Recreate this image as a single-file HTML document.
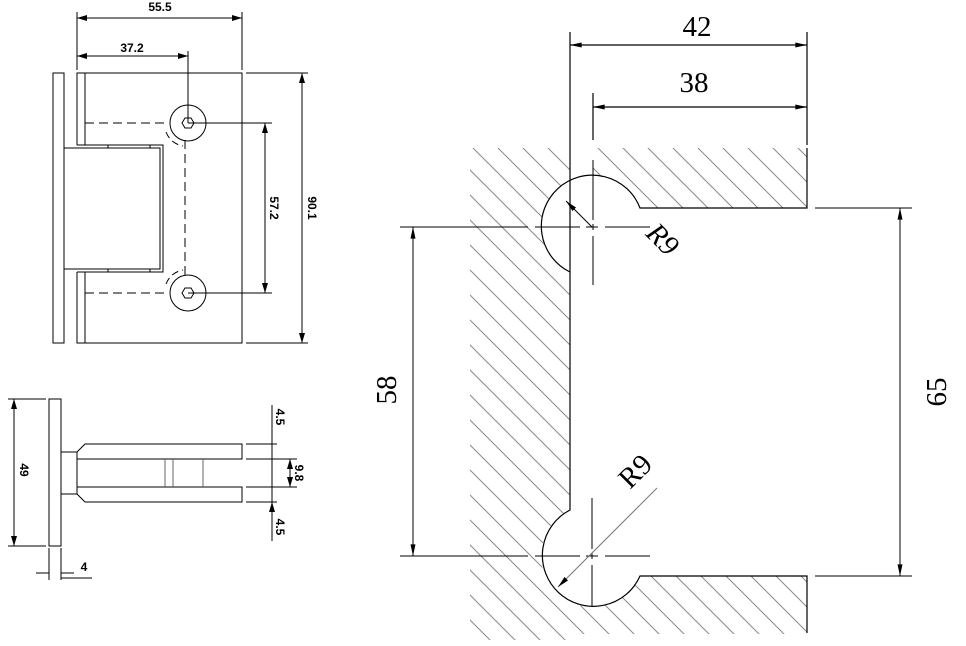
<!DOCTYPE html>
<html><head><meta charset="utf-8"><style>
html,body{margin:0;padding:0;background:#fff;}
svg{display:block;}
.s{font-family:"Liberation Sans",sans-serif;font-weight:bold;font-size:12px;}
.t{font-family:"Liberation Serif",serif;font-size:29px;}
</style></head><body>
<svg width="966" height="646" viewBox="0 0 966 646" xmlns="http://www.w3.org/2000/svg">
<defs>
<pattern id="h" patternUnits="userSpaceOnUse" width="25" height="25">
<path d="M0,0 L25,25 M-5,20 L5,30 M20,-5 L30,5" stroke="#8a8a8a" stroke-width="1"/>
</pattern>
<marker id="a" viewBox="0 0 10 6" refX="10" refY="3" markerWidth="10" markerHeight="6" orient="auto-start-reverse" markerUnits="userSpaceOnUse"><path d="M0,0 L10,3 L0,6z" fill="#000"/></marker>
<marker id="b" viewBox="0 0 14 6" refX="14" refY="3" markerWidth="14" markerHeight="5" orient="auto-start-reverse" markerUnits="userSpaceOnUse"><path d="M0,0 L14,3 L0,6z" fill="#000"/></marker>
</defs>
<g stroke="#000" stroke-width="1" fill="none">
<line x1="77" y1="12" x2="77" y2="70"/><line x1="242" y1="12" x2="242" y2="70"/>
<line x1="77" y1="18" x2="242" y2="18" marker-start="url(#a)" marker-end="url(#a)"/>
<line x1="77" y1="56" x2="188" y2="56" marker-start="url(#a)" marker-end="url(#a)"/>
<line x1="188" y1="51" x2="188" y2="123"/>
<rect x="53" y="73" width="11" height="270"/>
<path d="M77,145 L77,73 L242,73 L242,343 L77,343 L77,272"/>
<path d="M85,73 L85,145 M85,272 L85,343"/>
<path d="M77,145 L163,145 L163,272 L77,272 M64,148 L160,148 L160,269 L64,269 M64,148 L64,269"/>
<line x1="108" y1="145" x2="108" y2="148"/><line x1="150" y1="145" x2="150" y2="148"/>
<line x1="108" y1="269" x2="108" y2="272"/><line x1="150" y1="269" x2="150" y2="272"/>
<circle cx="188" cy="123" r="18"/><circle cx="188" cy="293" r="18"/>
<polygon points="182,123 185,118 191,118 194,123 191,128 185,128"/>
<polygon points="182,293 185,288 191,288 194,293 191,298 185,298"/>
<path d="M85,123 L165,123 M85,293 L165,293 M185,140 L185,278" stroke-dasharray="9,5"/>
<path d="M166,132 A22,22 0 0 0 183,146 M166,284 A22,22 0 0 1 183,270" stroke-dasharray="7,4"/>
<line x1="188" y1="123" x2="272" y2="123"/><line x1="188" y1="293" x2="272" y2="293"/>
<line x1="265" y1="123" x2="265" y2="293" marker-start="url(#a)" marker-end="url(#a)"/>
<line x1="246" y1="73" x2="308" y2="73"/><line x1="246" y1="343" x2="308" y2="343"/>
<line x1="302" y1="73" x2="302" y2="343" marker-start="url(#a)" marker-end="url(#a)"/>
<rect x="49" y="399" width="12" height="147"/>
<line x1="8" y1="399" x2="46" y2="399"/><line x1="8" y1="546" x2="46" y2="546"/>
<line x1="14" y1="399" x2="14" y2="546" marker-start="url(#a)" marker-end="url(#a)"/>
<rect x="61" y="452" width="16" height="42"/>
<path d="M77,452 L85,444 L242,444 L242,459 L77,459 M77,487 L242,487 L242,502 L85,502 L77,494"/>
<path d="M165,459 L165,487 M173,459 L173,487 M203,459 L203,487" stroke="#666"/>
<path d="M246,444 L277,444 M246,459 L297,459 M246,487 L297,487 M246,502 L277,502"/>
<line x1="272" y1="405" x2="272" y2="541"/>
<path d="M272,436 L272,444 M272,510 L272,502" marker-end="url(#a)"/>
<line x1="290" y1="459" x2="290" y2="487" marker-start="url(#a)" marker-end="url(#a)"/>
<path d="M49,548 L49,580 M61,548 L61,580 M36,573 L49,573 M74,573 L61,573 M61,578 L92,578"/>
</g>
<g class="s" fill="#000">
<text x="160" y="11" text-anchor="middle">55.5</text>
<text x="132" y="52" text-anchor="middle">37.2</text>
<text transform="translate(270,208) rotate(90)" text-anchor="middle">57.2</text>
<text transform="translate(308,208) rotate(90)" text-anchor="middle">90.1</text>
<text transform="translate(20,470) rotate(90)" text-anchor="middle">49</text>
<text transform="translate(276,417) rotate(90)" text-anchor="middle">4.5</text>
<text transform="translate(276,527) rotate(90)" text-anchor="middle">4.5</text>
<text transform="translate(295,473) rotate(90)" text-anchor="middle">9.8</text>
<text x="84" y="571" text-anchor="middle">4</text>
</g>
<g>
<rect x="470" y="148" width="100" height="492" fill="url(#h)"/>
<rect x="593" y="148" width="214" height="60" fill="url(#h)"/>
<rect x="570" y="576" width="237" height="58" fill="url(#h)"/>
<circle cx="592" cy="227" r="51" fill="#fff"/>
<circle cx="592" cy="556" r="51" fill="#fff"/>
<rect x="571" y="208" width="236" height="368" fill="#fff"/>
</g>
<g stroke="#000" stroke-width="1.2" fill="none">
<path d="M570,272 A51,51 0 1 1 640,208 L807,208 L807,148"/>
<path d="M570,272 L570,510 A51,51 0 1 0 640,576 L807,576 L807,633"/>
<line x1="570" y1="32" x2="570" y2="272"/>
<line x1="807" y1="32" x2="807" y2="145"/>
<line x1="593" y1="93" x2="593" y2="140"/>
<line x1="570" y1="45" x2="807" y2="45" marker-start="url(#b)" marker-end="url(#b)"/>
<line x1="593" y1="107" x2="807" y2="107" marker-start="url(#b)" marker-end="url(#b)"/>
<path d="M400,227 L528,227 M535,227 L580,227 M586,227 L598,227 M605,227 L650,227" stroke-width="1"/>
<path d="M593,160 L593,220 M593,224 L593,230 M593,236 L593,285" stroke-width="1"/>
<path d="M400,556 L528,556 M535,556 L580,556 M586,556 L598,556 M605,556 L650,556" stroke-width="1"/>
<path d="M592,498 L592,549 M592,553 L592,559 M592,565 L592,607" stroke-width="1"/>
<line x1="413" y1="227" x2="413" y2="556" stroke-width="1" marker-start="url(#b)" marker-end="url(#b)"/>
<line x1="815" y1="208" x2="912" y2="208" stroke-width="1"/>
<line x1="815" y1="576" x2="912" y2="576" stroke-width="1"/>
<line x1="900" y1="208" x2="900" y2="576" stroke-width="1" marker-start="url(#b)" marker-end="url(#b)"/>
<line x1="592" y1="227" x2="566" y2="201" stroke-width="1" marker-end="url(#b)"/>
<line x1="657" y1="488" x2="558" y2="587" stroke="#777" stroke-width="1" marker-end="url(#b)"/>
</g>
<g class="t" fill="#000">
<text x="697" y="36" text-anchor="middle">42</text>
<text x="694" y="92" text-anchor="middle">38</text>
<text transform="translate(396,390) rotate(-90)" text-anchor="middle">58</text>
<text transform="translate(946,392) rotate(-90)" text-anchor="middle">65</text>
<text transform="translate(656,246) rotate(45)" text-anchor="middle" font-style="italic">R9</text>
<text transform="translate(642,478) rotate(-45)" text-anchor="middle">R9</text>
</g>
</svg>
</body></html>
